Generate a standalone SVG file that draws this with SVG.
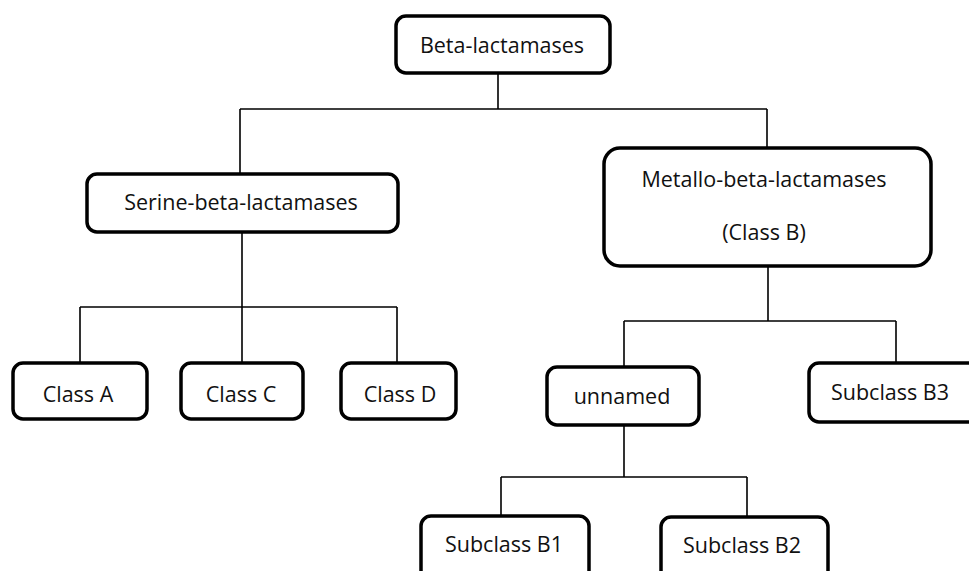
<svg xmlns="http://www.w3.org/2000/svg" width="969" height="571" viewBox="0 0 969 571">
<style>
.box{fill:#fff;stroke:#000;stroke-width:3.5}
.lbl{font-family:"Open Sans","Liberation Sans",sans-serif;font-size:21.5px;fill:#111;text-anchor:middle}
.con{fill:none;stroke:#000;stroke-width:1.6}
</style>
<rect width="969" height="571" fill="#fff"/>
<g id="connectors">
<path class="con" d="M498 73V109M240 109H767M240 109V173M767 109V147"/>
<path class="con" d="M242 232V362M80 307H397M80 307V362M397 307V362"/>
<path class="con" d="M768 266V321M624 321H896M624 321V367M896 321V363"/>
<path class="con" d="M624 425V477M501 477H747M501 477V515M747 477V516"/>
</g>
<g id="n-beta"><rect class="box" x="396" y="16" width="214" height="57" rx="10"/><text class="lbl" x="502" y="53">Beta-lactamases</text></g>
<g id="n-serine"><rect class="box" x="87" y="174" width="311" height="58" rx="10"/><text class="lbl" x="241" y="210">Serine-beta-lactamases</text></g>
<g id="n-metallo"><rect class="box" x="604" y="148" width="327" height="118" rx="16"/><text class="lbl" x="764" y="187">Metallo-beta-lactamases</text><text class="lbl" x="764" y="240">(Class B)</text></g>
<g id="n-classA"><rect class="box" x="13" y="363" width="134" height="56" rx="10"/><text class="lbl" x="78" y="402">Class A</text></g>
<g id="n-classC"><rect class="box" x="181" y="363" width="122" height="56" rx="10"/><text class="lbl" x="241" y="402">Class C</text></g>
<g id="n-classD"><rect class="box" x="341" y="363" width="115" height="56" rx="10"/><text class="lbl" x="400" y="402">Class D</text></g>
<g id="n-unnamed"><rect class="box" x="547" y="367" width="152" height="58" rx="10"/><text class="lbl" x="622" y="404">unnamed</text></g>
<g id="n-b3"><rect class="box" x="809" y="363" width="170" height="59" rx="10"/><text class="lbl" x="890" y="400">Subclass B3</text></g>
<g id="n-b1"><rect class="box" x="421" y="516" width="168" height="70" rx="10"/><text class="lbl" x="504" y="552">Subclass B1</text></g>
<g id="n-b2"><rect class="box" x="661" y="517" width="167" height="70" rx="10"/><text class="lbl" x="742" y="553">Subclass B2</text></g>
</svg>
